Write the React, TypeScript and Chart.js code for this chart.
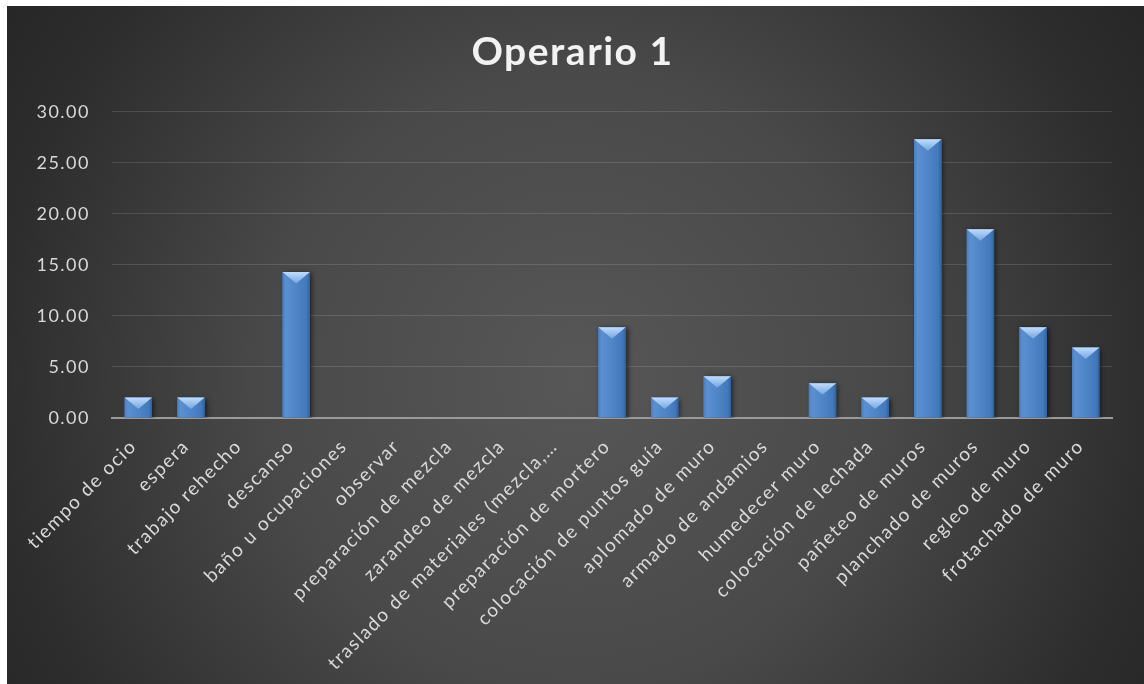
import React, { useEffect, useRef } from 'react';
import { Chart, registerables } from 'chart.js';

Chart.register(...registerables);

const chartTitle = 'Operario 1';

const categories = [
  'tiempo de ocio',
  'espera',
  'trabajo rehecho',
  'descanso',
  'baño u ocupaciones',
  'observar',
  'preparación de mezcla',
  'zarandeo de mezcla',
  'traslado de materiales (mezcla,…',
  'preparación de mortero',
  'colocación de puntos guía',
  'aplomado de muro',
  'armado de andamios',
  'humedecer muro',
  'colocación de lechada',
  'pañeteo de muros',
  'planchado de muros',
  'regleo de muro',
  'frotachado de muro',
];

const values = [2.0, 2.0, 0, 14.3, 0, 0, 0, 0, 0, 8.9, 2.0, 4.1, 0, 3.4, 2.0, 27.3, 18.5, 8.9, 6.9];

const yMin = 0;
const yMax = 30;
const yStep = 5;

const W = 1137;
const H = 678;

const spacingPlugin = {
  id: 'letterSpacing',
  beforeUpdate(chart: any) {
    chart.ctx.letterSpacing = '1.5px';
  },
  beforeDraw(chart: any) {
    chart.ctx.letterSpacing = '1.5px';
  },
};

const bevelPlugin = {
  id: 'bevel',
  beforeDatasetsDraw(chart: any) {
    const c = chart.ctx;
    c.save();
    c.shadowColor = 'rgba(0,0,0,0.6)';
    c.shadowBlur = 5;
    c.shadowOffsetX = 2;
    c.shadowOffsetY = 1;
  },
  afterDatasetsDraw(chart: any) {
    const ctx = chart.ctx;
    ctx.restore();
    const meta = chart.getDatasetMeta(0);
    meta.data.forEach((bar: any) => {
      const { x, y, base, width } = bar.getProps(['x', 'y', 'base', 'width'], true);
      const h = base - y;
      if (h < 1) return;
      const l = x - width / 2;
      const r = x + width / 2;
      ctx.save();
      const g = ctx.createLinearGradient(l, 0, r, 0);
      g.addColorStop(0, '#4a7dbd');
      g.addColorStop(0.12, '#5b8fd0');
      g.addColorStop(0.5, '#4f86c8');
      g.addColorStop(0.88, '#4379bc');
      g.addColorStop(1, '#30609d');
      ctx.fillStyle = g;
      ctx.fillRect(l, y, width, h);
      const d = Math.min(width * 0.42, h * 0.7);
      const tg = ctx.createLinearGradient(0, y, 0, y + d);
      tg.addColorStop(0, '#c0dcfb');
      tg.addColorStop(1, '#74a6e2');
      ctx.beginPath();
      ctx.moveTo(l, y);
      ctx.lineTo(r, y);
      ctx.lineTo(x, y + d);
      ctx.closePath();
      ctx.fillStyle = tg;
      ctx.fill();
      ctx.restore();
    });
  },
};

function BarChart() {
  const ref = useRef<HTMLCanvasElement | null>(null);
  useEffect(() => {
    if (!ref.current) return;
    const chart = new Chart(ref.current, {
      type: 'bar',
      data: {
        labels: categories,
        datasets: [
          {
            data: values,
            backgroundColor: '#4f86c8',
            borderWidth: 0,
            categoryPercentage: 1,
            barPercentage: 0.52,
          },
        ],
      },
      options: {
        animation: false,
        responsive: false,
        devicePixelRatio: 1,
        layout: { padding: { left: 26, right: 32, top: 0, bottom: 0 } },
        plugins: {
          legend: { display: false },
          tooltip: { enabled: false },
          title: {
            display: true,
            text: chartTitle,
            color: '#f2f2f2',
            font: { family: 'Lato', size: 39, weight: 'bold' },
            padding: { top: 23, bottom: 36 },
          },
        },
        scales: {
          x: {
            grid: { display: false, drawTicks: false },
            border: { display: true, color: '#9a9a9a', width: 2 },
            ticks: {
              color: '#d9d9d9',
              font: { family: 'Lato', size: 19 },
              minRotation: 45,
              maxRotation: 45,
              autoSkip: false,
              padding: 17,
              labelOffset: -5,
            },
            afterFit: (s: any) => {
              s.height = H - 412;
            },
          },
          y: {
            min: yMin,
            max: yMax,
            grid: { color: 'rgba(255,255,255,0.13)', lineWidth: 1, drawTicks: false },
            border: { display: false },
            ticks: {
              stepSize: yStep,
              color: '#d9d9d9',
              font: { family: 'Lato', size: 18 },
              padding: 22,
              callback: (v: any) => Number(v).toFixed(2),
            },
            afterFit: (s: any) => {
              s.width = 79;
            },
          },
        },
      },
      plugins: [spacingPlugin, bevelPlugin],
    });
    return () => chart.destroy();
  }, []);
  return <canvas ref={ref} width={W} height={H} style={{ display: 'block' }} />;
}

export default function App() {
  return (
    <div
      style={{
        position: 'absolute',
        left: 7,
        top: 6,
        width: W,
        height: H,
        background:
          'radial-gradient(circle 690px at 50% 55%, #575757 0%, #494949 45%, #2d2d2d 84%, #262626 100%)',
      }}
    >
      <BarChart />
    </div>
  );
}
